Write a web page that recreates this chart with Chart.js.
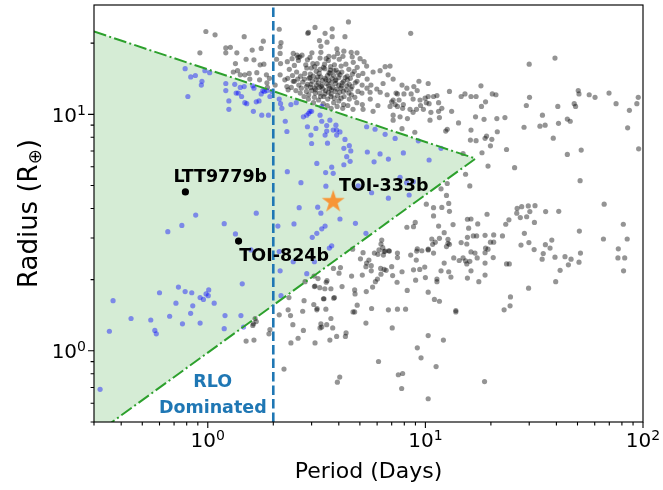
<!DOCTYPE html>
<html>
<head>
<meta charset="utf-8">
<script src="https://cdn.jsdelivr.net/npm/chart.js@4.4.0/dist/chart.umd.min.js"></script>
<style>
  html, body { margin: 0; padding: 0; background: #fff; }
  #wrap { width: 663px; height: 490px; }
</style>
</head>
<body>
<div id="wrap"><canvas id="chart" width="663" height="490"></canvas></div>
<script>
// [period (days), radius (Earth radii)]
const otherPlanets = [
  // hot Jupiters above the upper edge
  [0.98, 22.4], [1.08, 21.7], [0.92, 18.2], [1.21, 19.1], [1.27, 19.2], [1.21, 18.2], [1.36, 18.2], [1.47, 21.3],
  [1.80, 20.4], [1.60, 18.7], [1.76, 19.0], [1.34, 16.4], [1.50, 17.1], [1.63, 17.0], [1.74, 16.2], [1.81, 16.3],
  [1.31, 15.1], [1.37, 15.3], [1.41, 14.7], [1.48, 14.7], [1.55, 14.9], [1.68, 15.0], [1.73, 14.0], [1.56, 14.1],
  [1.86, 14.7], [1.92, 14.2], [1.87, 13.6], [2.13, 22.9], [2.17, 20.1], [2.15, 19.3], [2.15, 18.1], [2.07, 17.1],
  [2.16, 16.4], [2.15, 14.7], [2.26, 14.0], [2.31, 13.1], [2.34, 12.7], [2.47, 13.8], [2.60, 17.4], [2.90, 22.2],
  [3.11, 23.3], [3.26, 20.5], [3.46, 22.0], [2.47, 18.1], [2.65, 17.5], [2.85, 15.7], [4.43, 24.6], [3.73, 23.0],
  [2.88, 22.0], [4.27, 21.3], [3.73, 21.3], [3.53, 20.2], [3.31, 19.4], [3.01, 18.2], [3.31, 18.3], [2.71, 17.8],
  [3.92, 18.9], [4.22, 18.5], [4.56, 18.3], [4.85, 18.2], [3.95, 18.1], [3.60, 17.6], [2.95, 17.4], [2.32, 16.7],
  [2.44, 17.2], [2.57, 17.8], [2.87, 17.0], [3.28, 17.3], [3.50, 17.2], [3.80, 17.5], [4.18, 17.6], [4.61, 17.5],
  [5.01, 17.2], [5.23, 16.7], [5.37, 16.0], [5.75, 15.1], [6.19, 15.3], [6.53, 15.9], [6.74, 14.7], [7.11, 14.1],
  [6.39, 13.5], [7.33, 12.3], [7.11, 11.5], [6.88, 10.8], [7.11, 9.92], [7.11, 9.45], [5.17, 10.5], [5.75, 10.3],
  [4.65, 10.5], [5.39, 12.9], [5.12, 13.3], [4.85, 13.8], [5.57, 12.4], [6.67, 12.1], [7.57, 11.5], [2.04, 13.3],
  [1.88, 13.0],
  // dense clump around 3-5 days
  [2.61, 16.9], [3.04, 16.4], [4.02, 17.1], [4.66, 16.6], [2.50, 16.1], [2.82, 16.2], [3.18, 16.4], [3.67, 15.9],
  [4.31, 16.3], [4.86, 15.8], [2.37, 15.5], [2.99, 15.7], [3.45, 15.6], [3.89, 15.4], [4.45, 15.5], [2.56, 15.1],
  [2.79, 14.9], [3.15, 15.2], [3.61, 15.0], [4.13, 15.1], [4.71, 15.2], [5.16, 14.9], [2.45, 14.6], [2.67, 14.5],
  [2.96, 14.8], [3.30, 14.4], [3.79, 14.6], [4.37, 14.5], [4.92, 14.6], [2.33, 14.2], [2.59, 14.1], [2.92, 14.2],
  [3.20, 14.4], [3.49, 14.0], [4.00, 14.3], [4.52, 14.2], [5.40, 14.1], [2.50, 13.8], [2.73, 13.7], [3.02, 13.8],
  [3.36, 13.9], [3.69, 13.6], [4.21, 13.8], [4.76, 13.6], [2.62, 13.3], [2.87, 13.4], [3.16, 13.3], [3.58, 13.2],
  [3.87, 13.5], [4.47, 13.4], [5.62, 13.3], [2.42, 13.0], [2.69, 12.9], [2.97, 13.0], [3.32, 13.1], [3.63, 12.9],
  [4.10, 12.9], [4.60, 13.1], [5.98, 12.8], [2.54, 12.6], [2.84, 12.5], [3.13, 12.7], [3.48, 12.6], [3.85, 12.5],
  [4.33, 12.7], [4.90, 12.5], [2.66, 12.3], [2.91, 12.1], [3.27, 12.3], [3.69, 12.2], [4.04, 12.4], [4.57, 12.1],
  [5.11, 12.3], [6.20, 12.4], [2.77, 11.9], [3.09, 11.8], [3.41, 11.9], [3.81, 11.7], [4.23, 11.9], [4.74, 11.8],
  [2.90, 11.6], [3.23, 11.5], [3.56, 11.6], [4.00, 11.4], [4.47, 11.6], [5.58, 11.6], [3.06, 11.2], [3.39, 11.1],
  [3.79, 11.2], [4.21, 11.0], [4.84, 11.2], [3.54, 10.9], [3.93, 10.8], [4.40, 10.9], [5.13, 11.0], [6.05, 10.9],
  [3.69, 10.6], [4.17, 10.6], [3.35, 13.3], [3.72, 14.2], [3.10, 12.9], [4.15, 13.6], [3.45, 12.2], [3.95, 12.0],
  [3.25, 14.9], [3.60, 13.9], [4.38, 14.0], [2.98, 13.4], [3.80, 15.3], [4.55, 12.8], [3.40, 15.8], [3.15, 14.0],
  [3.70, 12.7], [4.05, 14.7], [3.22, 13.6], [3.52, 13.5], [3.85, 13.9], [3.38, 12.8], [3.75, 13.0], [4.12, 13.2],
  [3.05, 14.5], [3.55, 14.6], [3.98, 15.0], [4.28, 14.3], [3.28, 15.5], [3.66, 15.4], [3.12, 12.3], [3.58, 12.4],
  [3.92, 12.8], [4.35, 13.2], [2.84, 13.1], [3.46, 14.2], [3.88, 14.0], [4.20, 12.5], [3.00, 12.6], [3.30, 11.9],
  [3.68, 11.9], [4.10, 11.7], [3.44, 16.3], [3.82, 16.2], [4.10, 16.0], [2.78, 14.1], [4.62, 14.8], [3.58, 16.9],
  [3.10, 15.9], [4.45, 12.3], [3.25, 13.0], [3.65, 14.9], [4.00, 13.3], [2.95, 14.3],
  // long-period giants
  [7.81, 13.3], [8.22, 12.9], [8.85, 13.1], [9.34, 13.8], [10.3, 13.5], [9.17, 12.6], [8.60, 12.2], [7.97, 12.2],
  [7.44, 12.2], [7.00, 11.3], [7.26, 11.0], [7.92, 11.0], [8.78, 11.6], [9.45, 11.5], [9.97, 11.7], [10.3, 11.9],
  [10.9, 11.9], [11.3, 12.0], [10.1, 11.2], [10.4, 11.1], [9.50, 10.9], [9.10, 10.5], [8.50, 10.5], [7.86, 10.6],
  [7.44, 10.8], [7.65, 9.76], [8.27, 9.60], [8.78, 10.2], [9.79, 10.5], [10.6, 10.2], [11.5, 10.3], [11.9, 10.6],
  [11.5, 11.2], [12.9, 12.5], [13.2, 10.3], [14.6, 11.9], [15.2, 12.2], [16.2, 11.9], [17.1, 11.9], [18.0, 13.2],
  [20.3, 12.2], [21.1, 12.1], [18.9, 11.3], [18.1, 10.8], [17.0, 9.76], [18.6, 9.53], [21.3, 9.60], [23.2, 9.69],
  [21.4, 8.44], [20.2, 7.84], [19.1, 8.09], [18.8, 7.92], [17.1, 7.74], [16.1, 7.78], [16.2, 8.58], [14.2, 9.20],
  [12.6, 8.65], [12.4, 8.50], [10.5, 9.45], [11.6, 9.69], [8.94, 8.40], [7.81, 8.70], [23.6, 7.10], [18.2, 6.88],
  [19.9, 7.36], [14.9, 6.83], [19.4, 6.04], [25.7, 5.95], [15.3, 5.58], [16.0, 4.98], [12.6, 5.10], [12.5, 4.54],
  [11.8, 4.84], [30.1, 11.8], [29.1, 10.9], [28.4, 8.82], [33.6, 8.91], [35.5, 9.00], [34.5, 9.92], [40.6, 10.8],
  [40.9, 9.16], [38.7, 7.93], [44.9, 9.55], [46.3, 9.35], [48.3, 11.1], [49.0, 10.8], [50.4, 12.6], [50.8, 12.2],
  [56.6, 12.1], [60.2, 11.8], [69.8, 12.3], [75.2, 11.1], [86.6, 10.4], [95.1, 11.8], [93.7, 11.1], [85.0, 8.77],
  [95.5, 7.15], [52.0, 7.06], [44.9, 6.77], [51.4, 5.24], [30.0, 16.3], [39.4, 17.3], [8.56, 22.0], [6.88, 16.0],
  // sub-Neptunes and super-Earths
  [12.8, 4.20], [11.9, 4.04], [10.9, 4.03], [10.1, 4.17], [12.9, 3.89], [10.9, 3.72], [19.2, 3.78], [26.4, 4.00],
  [27.7, 4.07], [29.7, 4.10], [31.9, 4.11], [35.7, 3.88], [41.0, 3.89], [26.3, 3.82], [27.3, 3.66], [29.2, 3.69],
  [30.2, 3.88], [66.3, 4.17], [24.2, 3.58], [23.4, 3.43], [31.7, 3.49], [51.0, 3.21], [28.5, 3.14], [29.9, 2.87],
  [27.5, 2.80], [35.6, 2.81], [38.1, 2.94], [37.4, 2.72], [31.6, 2.68], [34.8, 2.58], [34.4, 2.44], [39.4, 2.49],
  [43.8, 2.50], [46.7, 2.44], [45.4, 2.31], [41.6, 2.19], [51.6, 2.59], [50.8, 2.37], [39.7, 1.96], [29.8, 1.84],
  [24.6, 1.69], [24.5, 1.55], [23.0, 1.49], [65.8, 2.97], [81.2, 3.43], [84.6, 2.97], [77.0, 2.70], [76.7, 2.47],
  [82.4, 2.47], [81.4, 2.18], [17.4, 3.44], [15.6, 3.60], [16.2, 3.61], [15.8, 3.30], [13.4, 3.42], [11.5, 3.37],
  [12.2, 3.16], [12.7, 2.96], [12.7, 2.85], [12.9, 2.82], [12.5, 2.76], [11.6, 2.99], [11.1, 2.88], [10.7, 2.97],
  [10.8, 2.82], [10.9, 2.59], [10.3, 2.67], [9.63, 2.65], [9.18, 2.70], [9.12, 2.64], [9.08, 2.42], [8.56, 2.54],
  [7.44, 2.59], [7.44, 2.48], [6.83, 2.64], [6.53, 2.64], [6.37, 2.73], [6.30, 2.94], [6.25, 2.83], [6.41, 2.54],
  [6.46, 2.21], [6.60, 2.19], [6.25, 2.11], [7.07, 2.08], [7.81, 2.16], [7.41, 1.95], [8.25, 1.80], [8.82, 2.20],
  [9.42, 2.21], [9.93, 2.26], [9.02, 1.99], [10.0, 2.04], [11.3, 2.01], [11.3, 1.96], [11.8, 2.18], [12.2, 2.35],
  [12.8, 2.16], [13.1, 2.05], [13.5, 2.47], [14.3, 2.41], [14.9, 2.47], [15.5, 2.33], [15.6, 2.03], [15.3, 2.40],
  [16.0, 2.39], [16.2, 2.18], [17.3, 2.47], [17.6, 1.96], [18.8, 2.09], [18.8, 2.35], [18.8, 2.60], [20.5, 2.48],
  [18.9, 2.72], [19.4, 2.69], [19.9, 2.88], [20.6, 2.88], [20.6, 3.09], [18.8, 3.08], [17.2, 3.06], [16.6, 3.06],
  [15.6, 3.02], [14.6, 2.87], [15.5, 2.83], [16.2, 2.62], [16.9, 2.59], [22.6, 3.06], [23.6, 2.33], [24.3, 2.33],
  [6.76, 1.49], [7.44, 1.50], [8.11, 1.50], [10.3, 1.77], [11.0, 1.65], [11.6, 1.62], [13.8, 1.48], [7.04, 1.25],
  [10.3, 2.69], [8.98, 3.49], [8.82, 3.35], [8.22, 3.33], [5.17, 2.60], [4.63, 2.69], [4.14, 1.87], [4.01, 2.13],
  [3.78, 2.23], [3.68, 1.83], [3.53, 1.98], [3.50, 1.95], [3.40, 1.66], [3.27, 1.85], [3.11, 1.88], [3.07, 1.57],
  [3.18, 1.51], [3.49, 1.50], [3.68, 1.37], [3.75, 1.25], [3.79, 1.67], [3.91, 1.15], [4.32, 1.19], [4.29, 1.15],
  [3.94, 0.737], [4.04, 0.774], [3.31, 1.30], [3.34, 1.26], [3.11, 1.08], [2.77, 1.63], [2.75, 1.22], [3.64, 1.11],
  [4.65, 1.46], [4.73, 1.46], [4.86, 1.56], [4.73, 1.81], [4.75, 1.74], [5.33, 1.31], [5.66, 1.51], [5.72, 1.86],
  [6.09, 0.901], [7.51, 0.792], [7.86, 0.802], [7.78, 0.693], [9.18, 1.03], [9.55, 0.934], [10.3, 1.16], [11.2, 0.858],
  [10.3, 0.627], [12.1, 1.11], [13.8, 1.46], [18.7, 0.741], [5.33, 2.27], [5.64, 2.18], [5.37, 2.35], [5.03, 2.45],
  [6.79, 2.65], [5.89, 1.96], [6.02, 2.01], [6.05, 2.56], [5.83, 2.59], [5.13, 2.09], [4.07, 2.25], [3.82, 1.68],
  [2.34, 1.49], [2.40, 1.41], [2.46, 1.29], [2.60, 1.13], [2.41, 1.08], [2.24, 0.837], [1.67, 1.33], [1.62, 1.30],
  [1.50, 1.10], [1.63, 1.11], [1.91, 1.18], [1.93, 1.23], [3.09, 1.87], [3.17, 1.49], [3.42, 1.66], [5.35, 1.78],
  [5.50, 2.42], [5.64, 2.29], [6.12, 2.67], [6.46, 2.63], [6.23, 2.23], [7.00, 2.27], [3.08, 2.07], [3.21, 2.02],
  [3.45, 1.83], [4.58, 2.07], [1.65, 1.37], [2.36, 1.68], [2.13, 1.42], [1.61, 1.28], [2.73, 1.47], [3.28, 1.25],
  [3.52, 1.29], [2.80, 1.96]
];

// planets falling inside the shaded region
const inRegionPlanets = [
  [0.787, 15.6], [0.835, 14.4], [0.877, 14.6], [0.94, 13.8], [0.934, 13.3], [0.81, 11.9], [0.97, 15.3], [1.02, 15.0],
  [1.21, 13.5], [1.21, 12.6], [1.25, 11.4], [1.25, 10.5], [1.33, 13.4], [1.35, 12.3], [1.41, 13.0], [1.43, 11.9],
  [1.47, 13.1], [1.48, 11.2], [1.51, 11.1], [1.61, 13.2], [1.62, 10.3], [1.63, 12.9], [1.67, 11.3], [1.72, 11.4],
  [1.76, 12.2], [1.77, 9.92], [1.79, 12.6], [1.82, 12.5], [1.90, 9.92], [1.93, 11.9], [1.97, 12.5], [2.13, 11.6],
  [2.16, 11.1], [2.19, 10.6], [2.27, 9.35], [2.31, 8.46], [2.32, 5.72], [2.41, 11.0], [2.68, 5.14], [2.85, 9.92],
  [2.91, 10.1], [2.95, 10.3], [2.87, 8.86], [3.17, 6.20], [3.14, 8.72], [3.28, 9.92], [3.34, 10.8], [2.98, 8.17],
  [3.48, 5.67], [3.52, 8.97], [1.38, 12.3], [1.87, 12.6], [2.55, 11.2], [2.75, 9.76], [3.00, 10.3], [3.52, 8.50],
  [3.46, 8.17], [3.77, 8.58], [3.91, 8.58], [4.05, 8.43], [3.91, 8.17], [3.88, 9.00], [4.27, 7.83], [4.22, 7.18],
  [4.47, 7.37], [3.00, 7.53], [5.37, 8.86], [5.87, 8.65], [6.53, 8.23], [7.26, 7.91], [3.34, 9.35], [3.64, 9.45],
  [3.55, 7.55], [4.54, 7.00], [4.35, 6.62], [4.51, 6.33], [4.22, 6.12], [5.41, 6.93], [6.19, 6.80], [5.81, 6.30],
  [6.76, 6.47], [7.92, 6.87], [10.4, 6.41], [11.8, 7.18], [3.71, 5.98], [3.77, 5.63], [3.49, 4.97], [4.91, 4.99],
  [5.66, 4.66], [6.76, 4.42], [7.65, 5.42], [8.80, 5.19], [8.42, 4.56], [2.63, 4.03], [3.20, 4.05], [3.31, 3.82],
  [4.05, 3.61], [4.77, 3.46], [2.10, 3.37], [2.49, 3.44], [3.34, 3.28], [3.46, 3.37], [3.17, 3.14], [3.02, 3.02],
  [5.33, 3.14], [3.71, 2.78], [3.62, 2.72], [2.47, 2.38], [3.09, 2.38], [9.28, 7.73], [8.20, 5.14], [0.88, 3.75],
  [0.76, 3.39], [0.655, 3.19], [1.19, 3.45], [1.67, 3.82], [1.34, 3.12], [2.15, 2.18], [2.85, 2.12], [2.17, 1.71],
  [0.367, 1.63], [0.353, 1.21], [0.444, 1.37], [0.547, 1.35], [0.571, 1.22], [0.58, 1.18], [0.60, 1.76], [0.668, 1.40],
  [0.714, 1.59], [0.733, 1.86], [0.765, 1.30], [0.787, 1.78], [0.834, 1.44], [0.844, 1.76], [0.853, 1.55], [0.922, 1.68],
  [0.922, 1.31], [0.955, 1.65], [0.982, 1.74], [1.005, 1.71], [1.01, 1.81], [1.07, 1.59], [1.20, 1.41], [1.19, 1.24],
  [1.42, 1.41], [1.44, 1.92], [1.46, 1.26], [0.32, 0.687], [1.58, 2.67], [2.13, 2.63]
];

const namedPlanets = ['LTT9779b', 'TOI-824b'];
const namedPeriods = [0.789, 1.385];
const namedRadii = [4.70, 2.91];

const starName = 'TOI-333b';
const starPeriod = 3.77;
const starRadius = 4.27;

// corners of the shaded region: upper edge R ~ P^-1/3, lower edge R ~ P^2/3
const regionPeriods = [0.3, 17.0, 0.3];
const regionRadii = [22.4, 6.5, 0.44];

const rloPeriod = 2;

const xRange = [0.3, 100];
const yRange = [0.5, 29];
const xTickValues = [1, 10, 100];
const xTickLabels = ['10^0', '10^1', '10^2'];
const yTickValues = [1, 10];
const yTickLabels = ['10^0', '10^1'];

const FONT = '"DejaVu Sans", Verdana, sans-serif';

function toPoints(list) {
  return list.map(p => ({x: p[0], y: p[1]}));
}

function makeStar(outer, color) {
  const size = Math.ceil(outer * 2 + 2);
  const c = document.createElement('canvas');
  c.width = c.height = size;
  const g = c.getContext('2d');
  const inner = outer * 0.382;
  g.beginPath();
  for (let i = 0; i < 10; i++) {
    const r = i % 2 ? inner : outer;
    const a = -Math.PI / 2 + i * Math.PI / 5;
    g.lineTo(size / 2 + r * Math.cos(a), size / 2 + r * Math.sin(a));
  }
  g.closePath();
  g.fillStyle = color;
  g.fill();
  return c;
}

// every 1..9 x 10^k value inside [lo, hi]
function logTickValues(lo, hi) {
  const out = [];
  for (let k = Math.floor(Math.log10(lo)); k <= Math.ceil(Math.log10(hi)); k++) {
    for (let m = 1; m <= 9; m++) {
      const v = m * Math.pow(10, k);
      if (v >= lo * 0.999 && v <= hi * 1.001) out.push(v);
    }
  }
  return out;
}

function isDecade(v) {
  const l = Math.log10(v);
  return Math.abs(l - Math.round(l)) < 1e-9;
}

// "10^2" drawn as mathtext-style base plus raised exponent
function drawPower(ctx, text, x, y, size, align) {
  const [base, exp] = text.split('^');
  const expSize = size * 0.7;
  ctx.font = size + 'px ' + FONT;
  const wb = ctx.measureText(base).width;
  ctx.font = expSize + 'px ' + FONT;
  const we = ctx.measureText(exp).width;
  const total = wb + we;
  let left = x;
  if (align === 'center') left = x - total / 2;
  if (align === 'right') left = x - total;
  ctx.textAlign = 'left';
  ctx.textBaseline = 'alphabetic';
  ctx.font = size + 'px ' + FONT;
  ctx.fillText(base, left, y);
  ctx.font = expSize + 'px ' + FONT;
  ctx.fillText(exp, left + wb, y - size * 0.36);
}

const decorations = {
  id: 'decorations',
  afterDraw(chart) {
    const {ctx, chartArea: a, scales: {x, y}} = chart;
    ctx.save();

    // labels for the highlighted planets
    ctx.fillStyle = '#000';
    ctx.font = 'bold 17.5px ' + FONT;
    ctx.textAlign = 'left';
    ctx.textBaseline = 'alphabetic';
    const offsets = [[-12, -10.3], [0.8, 19.4]];
    namedPlanets.forEach((name, i) => {
      const px = x.getPixelForValue(namedPeriods[i]);
      const py = y.getPixelForValue(namedRadii[i]);
      ctx.fillText(name, px + offsets[i][0], py + offsets[i][1]);
    });
    ctx.fillText(starName, x.getPixelForValue(starPeriod) + 5.7, y.getPixelForValue(starRadius) - 10.7);

    ctx.fillStyle = '#1f77b4';
    ctx.textAlign = 'center';
    const rx = x.getPixelForValue(rloPeriod) - 60.5;
    ctx.fillText('RLO', rx, 387);
    ctx.fillText('Dominated', rx, 413);

    // frame
    ctx.strokeStyle = '#000';
    ctx.lineWidth = 1.15;
    ctx.strokeRect(a.left, a.top, a.width, a.height);

    // tick marks
    ctx.lineWidth = 1.1;
    ctx.beginPath();
    logTickValues(xRange[0], xRange[1]).forEach(v => {
      const px = x.getPixelForValue(v);
      ctx.moveTo(px, a.bottom);
      ctx.lineTo(px, a.bottom + (isDecade(v) ? 6 : 3.4));
    });
    logTickValues(yRange[0], yRange[1]).forEach(v => {
      const py = y.getPixelForValue(v);
      ctx.moveTo(a.left, py);
      ctx.lineTo(a.left - (isDecade(v) ? 6 : 3.4), py);
    });
    ctx.stroke();

    // tick labels
    ctx.fillStyle = '#000';
    xTickValues.forEach((v, i) => {
      drawPower(ctx, xTickLabels[i], x.getPixelForValue(v), a.bottom + 25, 20, 'center');
    });
    yTickValues.forEach((v, i) => {
      drawPower(ctx, yTickLabels[i], a.left - 8, y.getPixelForValue(v) + 7.5, 20, 'right');
    });

    // axis titles
    ctx.font = '22px ' + FONT;
    ctx.textAlign = 'center';
    ctx.textBaseline = 'alphabetic';
    ctx.fillText('Period (Days)', (a.left + a.right) / 2, 478);

    const ts = 26;
    ctx.translate(37, (a.top + a.bottom) / 2);
    ctx.rotate(-Math.PI / 2);
    const main = 'Radius (R';
    const sub = '\u2295';
    const close = ')';
    ctx.font = ts + 'px ' + FONT;
    const w1 = ctx.measureText(main).width;
    const w3 = ctx.measureText(close).width;
    ctx.font = (ts * 0.7) + 'px ' + FONT;
    const w2 = ctx.measureText(sub).width;
    const left = -(w1 + w2 + w3) / 2;
    ctx.textAlign = 'left';
    ctx.font = ts + 'px ' + FONT;
    ctx.fillText(main, left, 0);
    ctx.font = (ts * 0.7) + 'px ' + FONT;
    ctx.fillText(sub, left + w1, ts * 0.16);
    ctx.font = ts + 'px ' + FONT;
    ctx.fillText(close, left + w1 + w2, 0);

    ctx.restore();
  }
};

const starImage = makeStar(12, 'rgb(247,149,54)');

new Chart(document.getElementById('chart'), {
  type: 'scatter',
  data: {
    datasets: [
      {
        // highlighted planets on top
        data: namedPeriods.map((p, i) => ({x: p, y: namedRadii[i]})),
        backgroundColor: '#000',
        borderWidth: 0,
        pointRadius: 3.6,
        order: 0
      },
      {
        data: [{x: starPeriod, y: starRadius}],
        pointStyle: starImage,
        pointRadius: 12,
        order: 1
      },
      {
        type: 'line',
        data: [{x: rloPeriod, y: yRange[0]}, {x: rloPeriod, y: yRange[1]}],
        borderColor: '#1f77b4',
        borderWidth: 2.6,
        borderDash: [9.5, 4],
        pointRadius: 0,
        fill: false,
        order: 2
      },
      {
        type: 'line',
        data: regionPeriods.map((p, i) => ({x: p, y: regionRadii[i]})),
        borderColor: '#2ca02c',
        borderWidth: 2,
        borderDash: [12.8, 3.2, 2, 3.2],
        pointRadius: 0,
        tension: 0,
        fill: false,
        order: 3
      },
      {
        data: toPoints(inRegionPlanets),
        backgroundColor: 'rgba(0,0,255,0.42)',
        borderWidth: 0,
        pointRadius: 2.6,
        order: 4
      },
      {
        data: toPoints(otherPlanets),
        backgroundColor: 'rgba(0,0,0,0.42)',
        borderWidth: 0,
        pointRadius: 2.6,
        order: 5
      },
      {
        type: 'line',
        data: regionPeriods.map((p, i) => ({x: p, y: regionRadii[i]})),
        backgroundColor: 'rgba(44,160,44,0.2)',
        borderWidth: 0,
        pointRadius: 0,
        tension: 0,
        fill: 'shape',
        order: 6
      }
    ]
  },
  options: {
    responsive: false,
    animation: false,
    devicePixelRatio: 1,
    events: [],
    layout: { autoPadding: false, padding: { top: 5, right: 20, left: 0, bottom: 0 } },
    plugins: {
      legend: { display: false },
      tooltip: { enabled: false }
    },
    scales: {
      x: {
        type: 'logarithmic',
        min: xRange[0],
        max: xRange[1],
        grid: { display: false },
        border: { display: false },
        ticks: { display: false },
        afterFit: s => { s.height = 68; s.paddingLeft = 0; s.paddingRight = 0; }
      },
      y: {
        type: 'logarithmic',
        min: yRange[0],
        max: yRange[1],
        grid: { display: false },
        border: { display: false },
        ticks: { display: false },
        afterFit: s => { s.width = 94; s.paddingTop = 0; s.paddingBottom = 0; }
      }
    }
  },
  plugins: [decorations]
});
</script>
</body>
</html>
